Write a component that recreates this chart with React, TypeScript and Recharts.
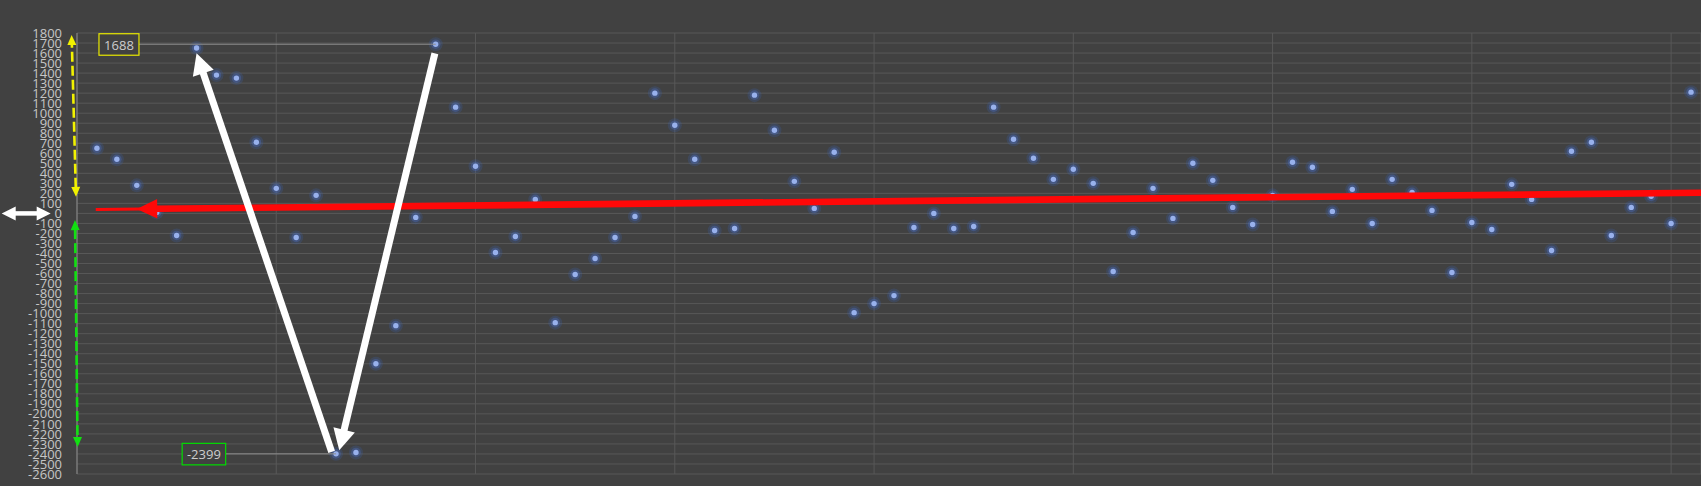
import React from "react";
import { ScatterChart, Scatter, XAxis, YAxis, CartesianGrid, ReferenceLine } from "recharts";

// sample values, one per x position 1..81
const values = [
  650, 540, 280, 10, -220, 1650, 1380, 1350, 710, 250,
  -240, 180, -2399, -2385, -1500, -1120, -40, 1688, 1060, 470,
  -390, -230, 140, -1090, -610, -450, -240, -30, 1200, 880,
  540, -170, -150, 1180, 830, 320, 50, 610, -990, -900,
  -820, -140, 0, -150, -130, 1060, 740, 550, 340, 440,
  300, -580, -190, 250, -50, 500, 330, 60, -110, 180,
  510, 460, 20, 240, -100, 340, 210, 30, -590, -90,
  -160, 290, 140, -370, 620, 710, -220, 60, 170, -100,
  1210,
];

const yTicks = Array.from({ length: 45 }, (_, i) => -2600 + i * 100);
const xTicks = [0, 10, 20, 30, 40, 50, 60, 70, 80];
const xDomain: [number, number] = [0, 81.5];
const yDomain: [number, number] = [-2600, 1800];

// trend line end points (x, value)
const trendX = [0.94, 81.5];
const trendY = [40, 206];

const points = values.map((v, i) => ({ x: i + 1, y: v }));
const maxVal = Math.max(...values);
const minVal = Math.min(...values);
const maxX = values.indexOf(maxVal) + 1;
const minX = values.indexOf(minVal) + 1;

const FONT = "'Open Sans', 'DejaVu Sans', sans-serif";

type ArrowOpts = {
  color: string;
  w: number;
  hl: number;
  hw: number;
  dash?: string;
  start?: boolean;
  end?: boolean;
};

const arrowShape = (o: ArrowOpts) => (p: any) => {
  const { x1, y1, x2, y2 } = p;
  const dx = x2 - x1;
  const dy = y2 - y1;
  const len = Math.hypot(dx, dy) || 1;
  const ux = dx / len;
  const uy = dy / len;
  const nx = -uy;
  const ny = ux;
  const head = (tx: number, ty: number, dir: number) => {
    const bx = tx - dir * ux * o.hl;
    const by = ty - dir * uy * o.hl;
    return `${tx},${ty} ${bx + nx * o.hw},${by + ny * o.hw} ${bx - nx * o.hw},${by - ny * o.hw}`;
  };
  const sx = o.start ? x1 + ux * (o.hl - 1) : x1;
  const sy = o.start ? y1 + uy * (o.hl - 1) : y1;
  const ex = o.end ? x2 - ux * (o.hl - 1) : x2;
  const ey = o.end ? y2 - uy * (o.hl - 1) : y2;
  return (
    <g>
      <line x1={sx} y1={sy} x2={ex} y2={ey} stroke={o.color} strokeWidth={o.w} strokeDasharray={o.dash} />
      {o.start && <polygon points={head(x1, y1, -1)} fill={o.color} />}
      {o.end && <polygon points={head(x2, y2, 1)} fill={o.color} />}
    </g>
  );
};

// red trend line with arrowhead placed near its left end, pointing left
const trendShape = (p: any) => {
  const { x1, y1, x2, y2 } = p;
  const dx = x2 - x1;
  const dy = y2 - y1;
  const len = Math.hypot(dx, dy) || 1;
  const ux = dx / len;
  const uy = dy / len;
  const nx = -uy;
  const ny = ux;
  const tx = x1 + ux * 41;
  const ty = y1 + uy * 41;
  const bx = x1 + ux * 61.5;
  const by = y1 + uy * 61.5;
  return (
    <g>
      <line x1={x1} y1={y1} x2={tx + ux * 4} y2={ty + uy * 4} stroke="#ff0808" strokeWidth={3} />
      <polygon
        points={`${tx},${ty} ${bx + nx * 9.7},${by + ny * 9.7} ${bx - nx * 9.7},${by - ny * 9.7}`}
        fill="#ff0808"
      />
      <line x1={bx - ux} y1={by - uy} x2={x2} y2={y2} stroke="#ff0808" strokeWidth={6.7} />
    </g>
  );
};

const labelShape = (text: string, color: string, boxW: number) => (p: any) => {
  const { x1, y1, x2, y2 } = p;
  return (
    <g>
      <line x1={x1} y1={y1} x2={x2} y2={y2} stroke="#8e8e8e" strokeWidth={1} />
      <rect x={x1 - boxW} y={y1 - 10.5} width={boxW} height={21.5} fill="#414141" stroke={color} strokeWidth={1.2} />
      <text
        x={x1 - boxW / 2}
        y={y1 + 1}
        dy="0.35em"
        textAnchor="middle"
        fill="#cdcdcd"
        fontSize={13}
        fontFamily={FONT}
      >
        {text}
      </text>
    </g>
  );
};

const GlowDot = (p: any) => {
  if (p.cx == null || p.cy == null) return <g />;
  return (
    <g>
      <circle cx={p.cx} cy={p.cy} r={7} fill="#3d63b8" opacity={0.22} />
      <circle cx={p.cx} cy={p.cy} r={4.8} fill="#4a70c8" opacity={0.35} />
      <circle cx={p.cx} cy={p.cy} r={2.7} fill="#98b1ec" />
    </g>
  );
};

export default function App() {
  return (
    <div style={{ width: 1701, height: 486, background: "#414141" }}>
      <style>{`body{margin:0;background:#414141;}`}</style>
      <ScatterChart
        width={1701}
        height={486}
        margin={{ top: 33, right: 0, bottom: 12, left: 0 }}
        style={{ background: "#414141" }}
      >
        <CartesianGrid stroke="#585858" strokeWidth={1} />
        <XAxis type="number" dataKey="x" domain={xDomain} ticks={xTicks} hide allowDataOverflow />
        <YAxis
          type="number"
          dataKey="y"
          domain={yDomain}
          ticks={yTicks}
          interval={0}
          width={77}
          tickLine={false}
          tickSize={6}
          tickMargin={9}
          axisLine={{ stroke: "#8a8a8a" }}
          tick={{ fill: "#c6c6c6", fontSize: 13, fontFamily: FONT }}
          allowDataOverflow
        />
        <Scatter data={points} shape={GlowDot} isAnimationActive={false} />

        <ReferenceLine
          segment={[{ x: trendX[0], y: trendY[0] }, { x: trendX[1], y: trendY[1] }]}
          shape={trendShape}
          ifOverflow="visible"
          zIndex={700}
        />
        <ReferenceLine
          segment={[{ x: 3.11, y: maxVal }, { x: maxX, y: maxVal }]}
          shape={labelShape(String(maxVal), "#e8e800", 40)}
          ifOverflow="visible"
          zIndex={700}
        />
        <ReferenceLine
          segment={[{ x: 7.46, y: minVal }, { x: minX, y: minVal }]}
          shape={labelShape(String(minVal), "#00dd00", 43.5)}
          ifOverflow="visible"
          zIndex={700}
        />
        <ReferenceLine
          segment={[{ x: 12.78, y: -2380 }, { x: 6.0, y: 1597 }]}
          shape={arrowShape({ color: "#ffffff", w: 7, hl: 21, hw: 11, end: true })}
          ifOverflow="visible"
          zIndex={700}
        />
        <ReferenceLine
          segment={[{ x: 17.96, y: 1597 }, { x: 13.16, y: -2363 }]}
          shape={arrowShape({ color: "#ffffff", w: 7, hl: 21, hw: 11, end: true })}
          ifOverflow="visible"
          zIndex={700}
        />
        <ReferenceLine
          segment={[{ x: -0.05, y: 166 }, { x: -0.27, y: 1780 }]}
          shape={arrowShape({ color: "#f2f200", w: 2.6, hl: 10, hw: 4.5, dash: "10 4", start: true, end: true })}
          ifOverflow="visible"
          zIndex={700}
        />
        <ReferenceLine
          segment={[{ x: -0.1, y: -67 }, { x: 0.03, y: -2330 }]}
          shape={arrowShape({ color: "#11e011", w: 2.6, hl: 10, hw: 4.5, dash: "10 4", start: true, end: true })}
          ifOverflow="visible"
          zIndex={700}
        />
        <ReferenceLine
          segment={[{ x: -3.78, y: 0 }, { x: -1.32, y: 0 }]}
          shape={arrowShape({ color: "#ffffff", w: 4.5, hl: 14, hw: 7, start: true, end: true })}
          ifOverflow="visible"
          zIndex={700}
        />
      </ScatterChart>
    </div>
  );
}
